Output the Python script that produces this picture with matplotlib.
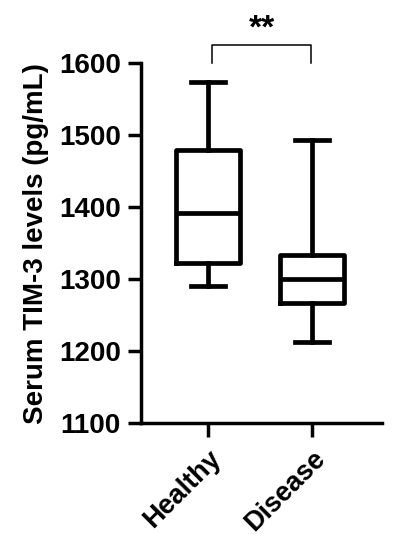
import matplotlib
matplotlib.use("Agg")
import matplotlib.pyplot as plt

plt.rcParams['font.family'] = ['Liberation Sans', 'DejaVu Sans']
plt.rcParams['font.weight'] = 'bold'

groups = ["Healthy", "Disease"]
# box stats: whisker low, Q1, median, Q3, whisker high
whislo = [1290, 1213]
q1 = [1322, 1267]
med = [1392, 1300]
q3 = [1479, 1334]
whishi = [1574, 1493]
yticks = [1100, 1200, 1300, 1400, 1500, 1600]

fig = plt.figure(figsize=(4, 5.5), dpi=100)
ax = fig.add_axes([0.3525, 0.231, 0.6025, 0.654])

stats = [dict(label=g, whislo=a, q1=b, med=c, q3=d, whishi=e, fliers=[])
         for g, a, b, c, d, e in zip(groups, whislo, q1, med, q3, whishi)]
lw = 3.4
ax.bxp(stats, positions=[0, 1], widths=0.62, showfliers=False,
       boxprops=dict(color="black", linewidth=lw),
       medianprops=dict(color="black", linewidth=lw),
       whiskerprops=dict(color="black", linewidth=lw),
       capprops=dict(color="black", linewidth=lw),
       capwidths=0.33)

ax.set_xlim(-0.644, 1.673)
ax.set_ylim(1100, 1600)
ax.set_yticks(yticks)
ax.set_xticks([0, 1])
ax.set_xticklabels(groups, rotation=45, ha="right", rotation_mode="anchor",
                   fontsize=19.5, fontweight="bold")
ax.tick_params(axis="y", labelsize=20, width=2.5, length=9.5, pad=5)
ax.tick_params(axis="x", width=2.5, length=10, pad=6)
for lab in ax.get_yticklabels():
    lab.set_fontweight("bold")
for sp in ["top", "right"]:
    ax.spines[sp].set_visible(False)
for sp in ["left", "bottom"]:
    ax.spines[sp].set_linewidth(2.5)
ax.set_ylabel("Serum TIM-3 levels (pg/mL)", fontsize=20, fontweight="bold")
ax.yaxis.set_label_coords(-0.383, 0.5)

# significance bracket
yb, yt = 1601, 1625
ax.plot([0.04, 0.04, 0.99, 0.99], [yb, yt, yt, yb], color="black", lw=1.1, clip_on=False)
ax.text(0.515, 1636, "**", ha="center", va="baseline", fontsize=24, fontweight="bold")

fig.savefig("out.png", dpi=100)
